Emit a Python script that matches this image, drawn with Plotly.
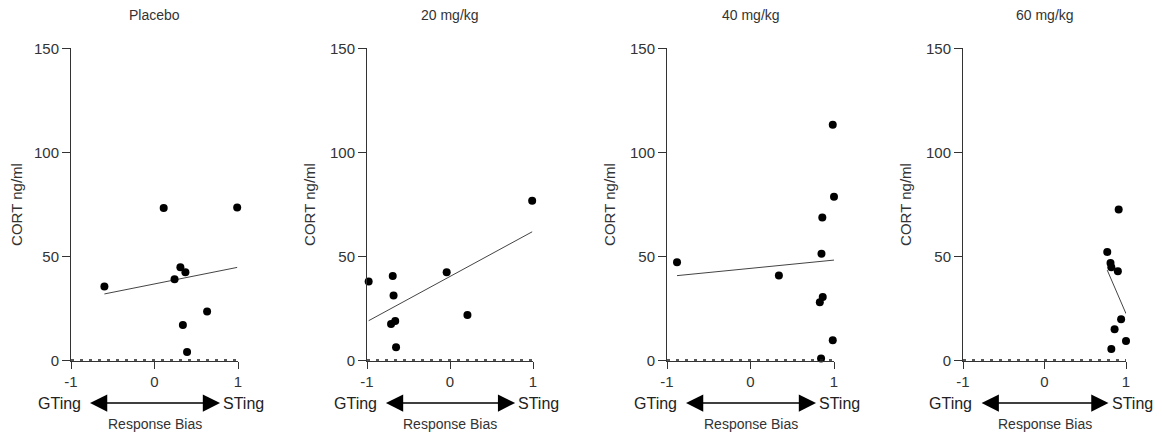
import numpy as np
import plotly.graph_objects as go

# ---- data ----
panel_titles = ["Placebo", "20 mg/kg", "40 mg/kg", "60 mg/kg"]

placebo_x = [-0.60, 0.11, 0.99, 0.31, 0.37, 0.24, 0.63, 0.34, 0.39]
placebo_y = [35.6, 73.3, 73.6, 44.9, 42.5, 39.1, 23.6, 17.2, 4.2]

dose20_x = [-0.98, -0.69, -0.68, -0.71, -0.66, -0.65, -0.04, 0.21, 0.99]
dose20_y = [38.0, 40.7, 31.3, 17.6, 19.1, 6.4, 42.5, 22.0, 76.8]

dose40_x = [-0.88, 0.34, 0.985, 1.00, 0.86, 0.85, 0.865, 0.83, 0.985, 0.845]
dose40_y = [47.3, 40.9, 113.3, 78.7, 68.8, 51.4, 30.6, 28.1, 9.8, 1.0]

dose60_x = [0.91, 0.77, 0.81, 0.82, 0.90, 0.94, 0.86, 1.00, 0.82]
dose60_y = [72.6, 52.2, 46.9, 44.9, 42.9, 19.9, 15.1, 9.4, 5.6]

x_ticks = [-1, 0, 1]
x_tick_text = ["-1", "0", "1"]
y_ticks = [0, 50, 100, 150]
y_title = "CORT ng/ml"
x_title = "Response Bias"
left_label = "GTing"
right_label = "STing"

series_x = [placebo_x, dose20_x, dose40_x, dose60_x]
series_y = [placebo_y, dose20_y, dose40_y, dose60_y]

# ---- layout constants ----
OFF = 8                      # page body margin offset
W, H = 1162 - OFF, 438 - OFF
FONT = "Liberation Sans, Arial, sans-serif"
TXT = "#333333"
AX = "#333333"


def xp(px):
    return (px - OFF) / W


def yp(py):
    return 1 - (py - OFF) / H


left_px = [71, 367, 667, 963]
right_px = [238, 533, 834, 1126]
y_dom = [yp(360.7), yp(48.3)]

fig = go.Figure()
layout = dict(
    width=W, height=H,
    margin=dict(l=0, r=0, t=0, b=0, autoexpand=False),
    paper_bgcolor="white", plot_bgcolor="white",
    showlegend=False,
    font=dict(family=FONT, color=TXT),
)
annotations = []
shapes = []

for i in range(4):
    n = "" if i == 0 else str(i + 1)
    xa, ya = "x" + n, "y" + n
    xs = np.array(series_x[i])
    ys = np.array(series_y[i])

    # dotted reference line at y = 0
    shapes.append(dict(type="line", xref=xa, yref=ya, x0=-1, x1=1, y0=0, y1=0,
                       line=dict(color="#222222", width=3, dash="3px,6px"), layer="above"))

    # regression line over data range
    slope, intercept = np.polyfit(xs, ys, 1)
    lx = np.array([xs.min(), xs.max()])
    fig.add_trace(go.Scatter(x=lx, y=slope * lx + intercept, mode="lines",
                             line=dict(color="#444444", width=1),
                             xaxis=xa, yaxis=ya, hoverinfo="skip", cliponaxis=False))
    # points
    fig.add_trace(go.Scatter(x=xs, y=ys, mode="markers",
                             marker=dict(color="black", size=8),
                             xaxis=xa, yaxis=ya, cliponaxis=False))

    layout["xaxis" + n] = dict(
        domain=[xp(left_px[i]), xp(right_px[i])], range=[-1, 1], anchor=ya,
        automargin=False,
        showline=True, linecolor=AX, linewidth=1, ticks="outside", ticklen=7,
        tickcolor=AX, tickwidth=1, tickvals=x_ticks, ticktext=x_tick_text,
        showgrid=False, zeroline=False,
        tickfont=dict(family=FONT, size=15, color=TXT),
    )
    layout["yaxis" + n] = dict(
        domain=y_dom, range=[0, 150], anchor=xa, automargin=False,
        showline=True, linecolor=AX, linewidth=1, ticks="outside", ticklen=8,
        tickcolor=AX, tickwidth=1, tickvals=y_ticks, showgrid=False, zeroline=False,
        tickfont=dict(family=FONT, size=15, color=TXT),
        title=dict(text=y_title, font=dict(family=FONT, size=15, color=TXT), standoff=10),
    )

    # panel title
    annotations.append(dict(text=panel_titles[i], xref=xa + " domain", yref="paper",
                            x=0.5, y=yp(15), xanchor="center", yanchor="middle",
                            showarrow=False, font=dict(family=FONT, size=14, color=TXT)))
    # GTing / STing labels
    annotations.append(dict(text=left_label, xref=xa, yref="paper", x=-0.86, y=yp(403),
                            xanchor="right", yanchor="middle", showarrow=False,
                            font=dict(family=FONT, size=16, color="#222222")))
    annotations.append(dict(text=right_label, xref=xa, yref="paper", x=0.80, y=yp(403),
                            xanchor="left", yanchor="middle", showarrow=False,
                            font=dict(family=FONT, size=16, color="#222222")))
    # double-headed arrow
    annotations.append(dict(text="", xref=xa, yref="paper", x=0.785, y=yp(403),
                            axref=xa, ax=-0.79, ayref="pixel", ay=0,
                            showarrow=True, arrowhead=2, startarrowhead=2,
                            arrowside="end+start", arrowwidth=1.5,
                            arrowsize=2.3, startarrowsize=2.3, arrowcolor="black"))
    # Response Bias label
    annotations.append(dict(text=x_title, xref=xa + " domain", yref="paper",
                            x=0.5, y=yp(424), xanchor="center", yanchor="middle",
                            showarrow=False, font=dict(family=FONT, size=14, color=TXT)))

layout["annotations"] = annotations
layout["shapes"] = shapes
fig.update_layout(**layout)
fig.write_html("out.html")
